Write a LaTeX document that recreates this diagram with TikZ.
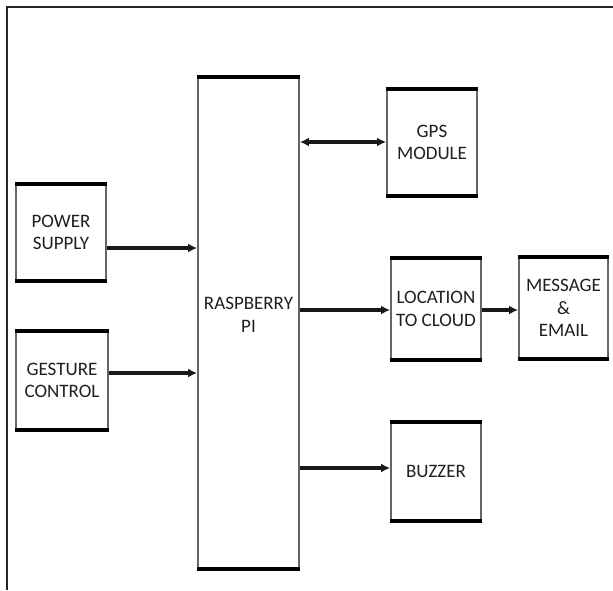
\documentclass[tikz,border=0pt]{standalone}
\usepackage{fontspec}
\setmainfont{Carlito}
\usetikzlibrary{arrows.meta}
\tikzset{
  txt/.style={inner sep=0pt, align=center, text=black!88, font=\fontsize{19}{22.5}\selectfont},
  blk/.style={txt, draw=black!60, line width=1.9pt, fill=white},
  tb/.style={line width=3.2pt, black},
  arr/.style={line width=3.4pt, black!90, -{Latex[length=9pt,width=9pt]}},
  darr/.style={line width=3.4pt, black!90, {Latex[length=9pt,width=9pt]}-{Latex[length=9pt,width=9pt]}},
  frame/.style={line width=2.8pt, black!85}
}
\begin{document}
\begin{tikzpicture}[x=1pt,y=-1pt]
\useasboundingbox (0,0) rectangle (613,590);
\fill[white] (0,0) rectangle (613,590);
\coordinate (ftr) at (613,7);
\coordinate (fbl) at (7,590);
\coordinate (ftl) at (7,7);
\draw[frame] (ftr) -- (ftl) -- (fbl);

\node[blk, minimum width=101pt, minimum height=490pt] (rpi) at (248.5,323) {};
\node[txt] (rpitext) at ([yshift=8pt]rpi.center) {RASPBERRY\\PI};
\node[blk, minimum width=90pt, minimum height=95pt] (pow) at (61,232.5) {POWER\\SUPPLY};
\node[blk, minimum width=92pt, minimum height=97pt] (ges) at (62,380.5) {GESTURE\\CONTROL};
\node[blk, minimum width=90pt, minimum height=105pt] (gps) at (432,142.5) {GPS\\MODULE};
\node[blk, minimum width=90pt, minimum height=100pt] (loc) at (436,309) {LOCATION\\TO CLOUD};
\node[blk, minimum width=89pt, minimum height=100pt] (msg) at (563.5,308) {MESSAGE\\\&\\EMAIL};
\node[blk, minimum width=90pt, minimum height=97pt] (buz) at (436,471.5) {BUZZER};

\foreach \n in {rpi,pow,ges,gps,loc,msg,buz}{
  \draw[tb] (\n.north west) -- (\n.north east) (\n.south west) -- (\n.south east);
}

\draw[arr] (pow.east |- 0,248) -- (rpi.west |- 0,248);
\draw[arr] (ges.east |- 0,373) -- (rpi.west |- 0,373);
\draw[darr] (rpi.east |- 0,142) -- (gps.west |- 0,142);
\draw[arr] (rpi.east |- 0,310) -- (loc.west |- 0,310);
\draw[arr] (loc.east |- 0,310) -- (msg.west |- 0,310);
\draw[arr] (rpi.east |- 0,468) -- (buz.west |- 0,468);
\end{tikzpicture}
\end{document}
